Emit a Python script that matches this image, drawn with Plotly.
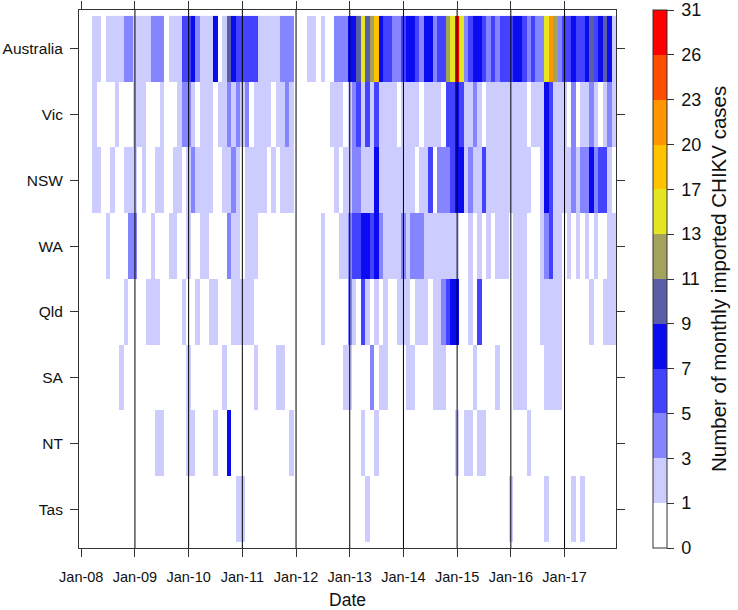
import numpy as np
import plotly.graph_objects as go

regions = ["Australia", "Vic", "NSW", "WA", "Qld", "SA", "NT", "Tas"]
tick_labels = ["Jan-08", "Jan-09", "Jan-10", "Jan-11", "Jan-12",
               "Jan-13", "Jan-14", "Jan-15", "Jan-16", "Jan-17"]
levels = [0, 1, 3, 5, 7, 9, 11, 13, 17, 20, 23, 26, 31]
level_colors = ["#FFFFFF", "#CCCCFF", "#8585FF", "#4242FF", "#0B0BF0", "#5B5EA6",
                "#A3A35E", "#E5E522", "#FFC400", "#FF9500", "#FF4D00", "#FF0000"]

# monthly counts, Jan-08 .. Dec-17 (10 values per line)
australia = [0, 0, 0, 2, 2, 0, 2, 2, 2, 2,
             4, 4, 2, 2, 2, 2, 4, 4, 4, 0,
             2, 2, 2, 6, 6, 8, 4, 2, 2, 2,
             8, 0, 2, 10, 8, 6, 6, 6, 6, 6,
             2, 2, 2, 2, 2, 4, 4, 4, 0, 0,
             0, 2, 2, 0, 2, 0, 0, 4, 4, 4,
             8, 8, 10, 14, 10, 12, 18, 8, 6, 6,
             4, 4, 6, 8, 8, 6, 4, 8, 8, 4,
             6, 6, 12, 16, 28, 16, 4, 6, 8, 8,
             6, 4, 6, 4, 6, 6, 6, 8, 8, 6,
             4, 6, 4, 4, 16, 21, 12, 4, 6, 6,
             8, 6, 6, 8, 10, 6, 8, 10, 8, 2]
vic = [0, 0, 0, 2, 0, 0, 0, 0, 2, 0,
       0, 0, 2, 2, 2, 0, 0, 0, 2, 0,
       0, 0, 2, 4, 4, 2, 0, 2, 2, 2,
       0, 2, 2, 4, 2, 4, 2, 4, 0, 2,
       2, 2, 2, 0, 2, 2, 4, 2, 0, 0,
       0, 0, 0, 0, 0, 0, 2, 2, 2, 0,
       2, 4, 6, 2, 6, 2, 6, 2, 2, 2,
       2, 0, 2, 2, 2, 2, 0, 2, 2, 2,
       2, 0, 6, 6, 8, 6, 2, 2, 4, 2,
       0, 2, 2, 2, 2, 2, 2, 2, 2, 2,
       0, 2, 2, 2, 8, 6, 2, 2, 2, 0,
       4, 0, 2, 2, 4, 2, 0, 2, 4, 2]
nsw = [0, 0, 0, 2, 2, 0, 0, 2, 0, 0,
       2, 2, 2, 0, 2, 0, 0, 2, 2, 0,
       0, 2, 2, 0, 2, 4, 2, 2, 2, 2,
       0, 0, 2, 2, 4, 2, 0, 2, 2, 2,
       2, 2, 0, 2, 0, 2, 2, 2, 0, 0,
       0, 0, 0, 0, 0, 0, 0, 2, 0, 2,
       2, 4, 4, 2, 2, 2, 8, 2, 2, 2,
       2, 2, 2, 2, 2, 0, 2, 2, 6, 0,
       4, 4, 4, 6, 8, 8, 2, 4, 2, 2,
       6, 2, 2, 2, 2, 2, 2, 2, 2, 2,
       2, 0, 0, 2, 8, 6, 2, 2, 2, 2,
       4, 2, 4, 4, 8, 4, 6, 6, 2, 0]
wa = [0, 0, 0, 0, 0, 0, 2, 0, 0, 0,
      0, 4, 4, 0, 0, 0, 2, 0, 0, 0,
      2, 2, 0, 0, 2, 0, 0, 2, 2, 0,
      0, 0, 0, 4, 2, 2, 0, 2, 2, 2,
      0, 0, 0, 0, 0, 0, 0, 0, 0, 0,
      0, 0, 0, 0, 2, 0, 0, 0, 2, 2,
      4, 6, 6, 8, 8, 6, 8, 4, 2, 2,
      2, 2, 4, 2, 4, 4, 4, 2, 2, 2,
      2, 2, 2, 2, 2, 0, 0, 2, 0, 2,
      0, 2, 0, 2, 2, 2, 0, 2, 2, 2,
      0, 0, 0, 2, 4, 6, 2, 2, 0, 2,
      0, 2, 0, 2, 0, 2, 0, 0, 2, 2]
qld = [0, 0, 0, 0, 0, 0, 0, 0, 0, 0,
       2, 0, 0, 0, 0, 2, 2, 2, 0, 0,
       0, 0, 0, 2, 0, 0, 2, 0, 0, 2,
       2, 0, 0, 0, 2, 2, 2, 2, 2, 0,
       0, 0, 0, 0, 0, 0, 0, 0, 0, 0,
       0, 0, 0, 0, 2, 0, 0, 0, 0, 0,
       4, 2, 0, 6, 2, 0, 2, 0, 2, 0,
       0, 2, 2, 2, 0, 2, 2, 2, 0, 2,
       2, 4, 6, 8, 8, 0, 0, 2, 0, 6,
       0, 0, 0, 0, 0, 0, 0, 2, 2, 2,
       0, 0, 0, 2, 2, 2, 2, 2, 0, 0,
       0, 0, 0, 0, 2, 0, 0, 2, 2, 2]
sa = [0, 0, 0, 0, 0, 0, 0, 0, 0, 2,
      0, 0, 0, 0, 0, 0, 0, 0, 0, 0,
      0, 0, 0, 0, 2, 0, 0, 0, 0, 0,
      0, 0, 2, 0, 0, 0, 0, 0, 0, 2,
      0, 0, 0, 0, 2, 2, 0, 0, 0, 0,
      0, 0, 0, 0, 0, 0, 0, 0, 0, 2,
      2, 0, 0, 0, 0, 4, 0, 2, 2, 0,
      0, 0, 0, 2, 2, 0, 0, 0, 0, 2,
      2, 2, 0, 0, 0, 0, 0, 0, 2, 0,
      0, 0, 0, 2, 0, 0, 0, 2, 2, 2,
      0, 0, 0, 0, 2, 2, 2, 2, 0, 0,
      0, 0, 0, 0, 0, 0, 0, 0, 0, 0]
nt = [0, 0, 0, 0, 0, 0, 0, 0, 0, 0,
      0, 0, 0, 0, 0, 0, 0, 2, 2, 0,
      0, 0, 0, 0, 2, 2, 0, 0, 0, 0,
      2, 0, 0, 8, 0, 0, 0, 0, 0, 0,
      0, 0, 0, 0, 0, 0, 0, 2, 0, 0,
      0, 0, 0, 0, 0, 0, 0, 0, 0, 0,
      0, 0, 0, 2, 0, 0, 2, 0, 0, 0,
      0, 0, 0, 0, 0, 0, 0, 0, 0, 0,
      0, 0, 0, 0, 2, 0, 2, 2, 0, 2,
      2, 0, 0, 0, 0, 0, 0, 0, 0, 0,
      2, 0, 0, 0, 0, 0, 0, 0, 0, 0,
      0, 0, 0, 0, 0, 0, 0, 0, 0, 0]
tas = [0, 0, 0, 0, 0, 0, 0, 0, 0, 0,
       0, 0, 0, 0, 0, 0, 0, 0, 0, 0,
       0, 0, 0, 0, 0, 0, 0, 0, 0, 0,
       0, 0, 0, 0, 0, 2, 2, 0, 0, 0,
       0, 0, 0, 0, 0, 0, 0, 0, 0, 0,
       0, 0, 0, 0, 0, 0, 0, 0, 0, 0,
       0, 0, 0, 0, 2, 0, 0, 0, 0, 0,
       0, 0, 0, 0, 0, 0, 0, 0, 0, 0,
       0, 0, 0, 0, 0, 0, 0, 0, 0, 0,
       0, 0, 0, 0, 0, 0, 2, 0, 0, 0,
       0, 0, 0, 0, 2, 0, 0, 0, 0, 0,
       2, 0, 2, 0, 0, 0, 0, 0, 0, 0]

series = [australia, vic, nsw, wa, qld, sa, nt, tas]
counts = np.array(series, dtype=float)
months = np.arange(counts.shape[1])
tick_pos = months[::12][:len(tick_labels)]

# map counts to colour-bin index (colour key has equally spaced bins)
bin_idx = np.digitize(counts, levels[1:-1]) + 0.5
nb = len(level_colors)
colorscale = []
for i, c in enumerate(level_colors):
    colorscale.append([i / nb, c])
    colorscale.append([(i + 1) / nb, c])

FONT = "Liberation Sans, Arial, sans-serif"
LINE = "#333333"

fig = go.Figure(go.Heatmap(
    z=bin_idx, x=months, y=list(range(len(regions))),
    zmin=0, zmax=nb, colorscale=colorscale,
    customdata=counts, hovertemplate="%{customdata}<extra></extra>",
    colorbar=dict(
        tickvals=list(range(len(levels))),
        ticktext=["\u2009" + str(v) for v in levels],
        ticks="outside", ticklen=7, tickcolor=LINE,
        tickfont=dict(size=18, color="#111", family=FONT),
        thickness=14, len=1, lenmode="fraction", y=0.5, yanchor="middle",
        x=1.068, xanchor="left", xpad=0, ypad=0,
        outlinewidth=1, outlinecolor=LINE,
    ),
))

for t in tick_pos[1:]:
    fig.add_shape(type="line", xref="x", yref="paper", x0=t, x1=t, y0=0, y1=1,
                  line=dict(color="black", width=1), layer="above")

fig.add_annotation(text="Number of monthly imported CHIKV cases", textangle=-90,
                   xref="paper", yref="paper", x=1.19, y=0.5,
                   xanchor="center", yanchor="middle", showarrow=False,
                   font=dict(size=20.5, color="#111", family=FONT))

fig.update_layout(
    width=738, height=610,
    margin=dict(l=79, r=122, t=10, b=62, autoexpand=False),
    paper_bgcolor="white", plot_bgcolor="white",
    font=dict(family=FONT, color="#111"),
    xaxis=dict(range=[-0.5, months[-1] + 0.5], tickvals=tick_pos, ticktext=tick_labels,
               ticks="outside", ticklen=8, tickcolor=LINE, showline=True, linecolor=LINE,
               linewidth=1, mirror="ticks", showgrid=False, zeroline=False,
               tickfont=dict(size=14.5), ticklabelstandoff=8,
               title=dict(text="Date", font=dict(size=17.5), standoff=13)),
    yaxis=dict(range=[len(regions) - 1 + 0.59, -0.59], tickvals=list(range(len(regions))),
               ticktext=regions, ticks="outside", ticklen=8, tickcolor=LINE,
               showline=True, linecolor=LINE, linewidth=1, mirror="ticks",
               showgrid=False, zeroline=False, tickfont=dict(size=15.5),
               ticklabelstandoff=4),
)

fig.write_html("out.html", config={"displayModeBar": False},
               post_script="document.body.style.margin='0';")
